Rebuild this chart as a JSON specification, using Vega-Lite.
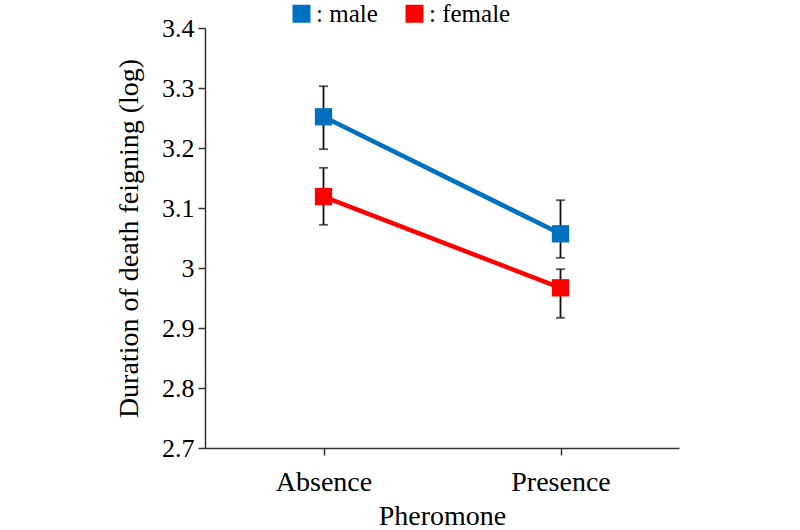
{
  "$schema": "https://vega.github.io/schema/vega-lite/v6.json",
  "autosize": "none",
  "width": 474,
  "height": 420,
  "padding": {"left": 205, "top": 28, "right": 121, "bottom": 82},
  "background": "white",
  "config": {
    "font": "Liberation Serif",
    "view": {"stroke": null},
    "axis": {"labelFont": "Liberation Serif", "titleFont": "Liberation Serif", "labelColor": "#000", "titleColor": "#000", "titleFontWeight": "normal", "domainColor": "#333", "tickColor": "#333", "domainWidth": 1.5, "tickWidth": 1.5, "grid": false},
    "legend": {"labelFont": "Liberation Serif", "labelColor": "#000"}
  },
  "data": {
    "values": [
      {"pheromone": "Absence", "sex": "male", "mean": 3.252, "lo": 3.198, "hi": 3.303},
      {"pheromone": "Presence", "sex": "male", "mean": 3.057, "lo": 3.017, "hi": 3.113},
      {"pheromone": "Absence", "sex": "female", "mean": 3.119, "lo": 3.072, "hi": 3.167},
      {"pheromone": "Presence", "sex": "female", "mean": 2.967, "lo": 2.917, "hi": 2.998}
    ]
  },
  "encoding": {
    "x": {
      "field": "pheromone", "type": "nominal",
      "scale": {"type": "point", "padding": 0.5, "domain": ["Absence", "Presence"]},
      "axis": {"title": "Pheromone", "labelAngle": 0, "labelFontSize": 28, "titleFontSize": 28, "tickSize": 7, "labelPadding": 13, "titlePadding": 6}
    }
  },
  "layer": [
    {
      "mark": {"type": "line", "strokeWidth": 4.5},
      "encoding": {
        "y": {"field": "mean", "type": "quantitative", "scale": {"domain": [2.7, 3.4], "nice": false, "zero": false},
          "axis": {"title": "Duration of death feigning (log)", "values": [2.7, 2.8, 2.9, 3.0, 3.1, 3.2, 3.3, 3.4], "format": ".1~f", "labelFontSize": 26, "titleFontSize": 28, "tickSize": 7, "labelPadding": 4, "titlePadding": 18}},
        "color": {"field": "sex", "type": "nominal", "scale": {"domain": ["male", "female"], "range": ["#0070C0", "#FF0000"]},
          "legend": {"title": null, "orient": "none", "legendX": 84, "legendY": -27, "direction": "horizontal", "symbolType": "square", "symbolSize": 324, "symbolStrokeWidth": 0, "symbolOpacity": 1, "labelFontSize": 25, "labelExpr": "': ' + datum.label", "columnPadding": 24, "labelOffset": 2}}
      }
    },
    {
      "mark": {"type": "rule", "color": "#111", "strokeWidth": 1.8},
      "encoding": {
        "y": {"field": "lo", "type": "quantitative"},
        "y2": {"field": "hi"}
      }
    },
    {
      "mark": {"type": "tick", "color": "#111", "thickness": 1.8, "size": 9},
      "encoding": {"y": {"field": "lo", "type": "quantitative"}}
    },
    {
      "mark": {"type": "tick", "color": "#111", "thickness": 1.8, "size": 9},
      "encoding": {"y": {"field": "hi", "type": "quantitative"}}
    },
    {
      "mark": {"type": "point", "shape": "square", "filled": true, "opacity": 1, "size": 300},
      "encoding": {
        "y": {"field": "mean", "type": "quantitative"},
        "color": {"field": "sex", "type": "nominal",
          "legend": {"title": null, "orient": "none", "legendX": 84, "legendY": -27, "direction": "horizontal", "symbolType": "square", "symbolSize": 324, "symbolStrokeWidth": 0, "symbolOpacity": 1, "labelFontSize": 25, "labelExpr": "': ' + datum.label", "columnPadding": 24, "labelOffset": 2}}
      }
    }
  ]
}
